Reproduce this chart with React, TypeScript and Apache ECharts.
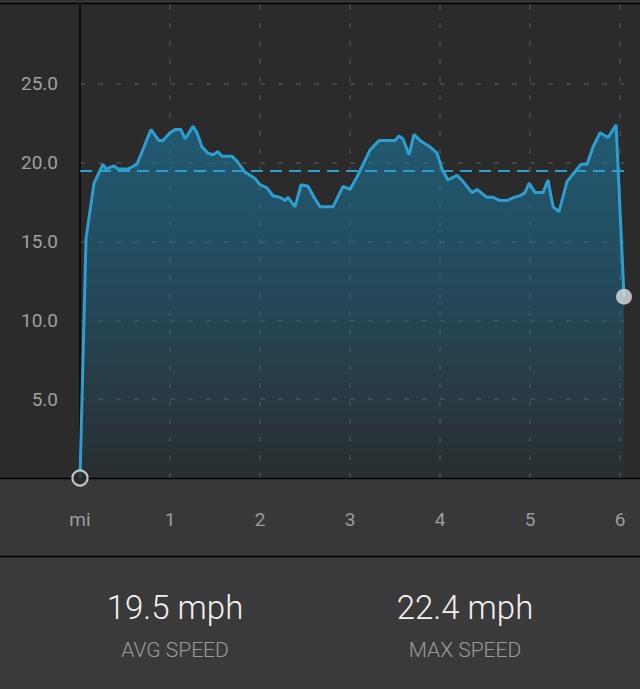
import React, { useEffect, useRef } from "react";
import * as echarts from "echarts";

// distance (miles) and speed (mph)
const distances = [
  0, 0.067, 0.156, 0.256, 0.289, 0.378, 0.422, 0.533, 0.633, 0.789, 0.878, 0.922,
  1.0, 1.056, 1.122, 1.167, 1.256, 1.3, 1.356, 1.422, 1.478, 1.533, 1.578, 1.689,
  1.744, 1.833, 1.944, 2.0, 2.078, 2.144, 2.222, 2.278, 2.311, 2.389, 2.456, 2.533,
  2.611, 2.667, 2.811, 2.922, 3.0, 3.078, 3.222, 3.322, 3.5, 3.544, 3.589, 3.656,
  3.711, 3.778, 3.889, 3.967, 4.022, 4.089, 4.189, 4.256, 4.356, 4.411, 4.522, 4.589,
  4.667, 4.744, 4.822, 4.889, 4.944, 4.989, 5.056, 5.144, 5.2, 5.256, 5.322, 5.411,
  5.467, 5.567, 5.633, 5.7, 5.778, 5.867, 5.956, 6.044,
];
const speeds = [
  0, 15.2, 18.7, 19.9, 19.6, 19.8, 19.6, 19.6, 19.9, 22.1, 21.4, 21.4,
  21.9, 22.1, 22.1, 21.5, 22.3, 21.9, 21.0, 20.6, 20.5, 20.7, 20.4, 20.4,
  20.1, 19.4, 19.0, 18.6, 18.4, 17.9, 17.8, 17.6, 17.8, 17.2, 18.6, 18.5,
  17.7, 17.2, 17.2, 18.5, 18.3, 19.1, 20.8, 21.4, 21.4, 21.7, 21.5, 20.5,
  21.8, 21.4, 21.0, 20.6, 19.6, 18.9, 19.2, 18.8, 18.1, 18.3, 17.8, 17.8,
  17.6, 17.6, 17.8, 17.9, 18.1, 18.7, 18.1, 18.1, 18.9, 17.2, 16.9, 18.8,
  19.2, 19.9, 19.9, 21.0, 21.9, 21.6, 22.4, 11.5,
];
const xTickLabels = ["mi", "1", "2", "3", "4", "5", "6"];
const avgSpeed = 19.5;
const maxSpeed = 22.4;
const statValues = [`${avgSpeed} mph`, `${maxSpeed} mph`];
const statLabels = ["AVG SPEED", "MAX SPEED"];

const FONT = "Roboto, 'Liberation Sans', sans-serif";

export default function App() {
  const ref = useRef<HTMLDivElement>(null);

  useEffect(() => {
    document.body.style.margin = "0";
    document.body.style.background = "#2b2b2b";
    if (!ref.current) return;
    const chart = echarts.init(ref.current, null, { renderer: "svg" });

    const lineData = distances.map((d, i) => [d, speeds[i]]);
    const last = lineData.length - 1;

    const statX = [175, 465];

    chart.setOption({
      animation: false,
      backgroundColor: "#2b2b2b",
      grid: { left: 80, right: 16, top: 5, bottom: 211, containLabel: false },
      xAxis: {
        type: "value",
        min: 0,
        max: distances[last],
        interval: 1,
        axisLine: { show: false },
        axisTick: { show: false },
        axisLabel: {
          color: "#9c9c9c",
          fontSize: 19,
          fontFamily: FONT,
          margin: 32,
          showMaxLabel: false,
          formatter: (v: number) =>
            Math.abs(v - Math.round(v)) < 1e-6 ? xTickLabels[Math.round(v)] ?? "" : "",
        },
        splitLine: {
          show: true,
          showMinLine: false,
          showMaxLine: false,
          lineStyle: { color: "#4e4e4e", type: [5, 13], width: 1.5 },
        },
      },
      yAxis: {
        type: "value",
        min: 0,
        max: 30,
        interval: 5,
        axisLine: { show: true, lineStyle: { color: "#000000", width: 1.5 } },
        axisTick: { show: false },
        axisLabel: {
          color: "#a0a0a0",
          fontSize: 19,
          fontFamily: FONT,
          margin: 22,
          formatter: (v: number) => (v === 0 || v === 30 ? "" : v.toFixed(1)),
        },
        splitLine: {
          show: true,
          showMinLine: false,
          showMaxLine: false,
          lineStyle: { color: "#4e4e4e", type: [5, 13], width: 1.5 },
        },
      },
      graphic: [
        { type: "rect", z: -10, shape: { x: 0, y: 0, width: 640, height: 3 }, style: { fill: "#343434" } },
        { type: "rect", z: -10, shape: { x: 0, y: 478, width: 640, height: 78 }, style: { fill: "#383838" } },
        { type: "rect", z: -10, shape: { x: 0, y: 556, width: 640, height: 133 }, style: { fill: "#3a3a3a" } },
        { type: "line", z: 1, shape: { x1: 0, y1: 3.5, x2: 640, y2: 3.5 }, style: { stroke: "#000", lineWidth: 1.5 } },
        { type: "line", z: 1, shape: { x1: 0, y1: 478.5, x2: 640, y2: 478.5 }, style: { stroke: "#000", lineWidth: 1.5 } },
        { type: "line", z: 1, shape: { x1: 0, y1: 556.5, x2: 640, y2: 556.5 }, style: { stroke: "#000", lineWidth: 1.5 } },
        ...statValues.map((t, i) => ({
          type: "text",
          z: 5,
          x: statX[i],
          y: 607,
          style: {
            text: t,
            fill: "#f2f2f2",
            font: `300 33px ${FONT}`,
            align: "center",
            verticalAlign: "middle",
          },
        })),
        ...statLabels.map((t, i) => ({
          type: "text",
          z: 5,
          x: statX[i],
          y: 650,
          style: {
            text: t,
            fill: "#9a9a9a",
            font: `300 21px ${FONT}`,
            align: "center",
            verticalAlign: "middle",
          },
        })),
      ],
      series: [
        {
          type: "line",
          data: lineData,
          symbol: "none",
          z: 3,
          lineStyle: { color: "#2c9fd0", width: 3 },
          areaStyle: {
            opacity: 1,
            color: new echarts.graphic.LinearGradient(0, 0, 0, 1, [
              { offset: 0, color: "rgba(26,121,163,0.6)" },
              { offset: 0.5, color: "rgba(27,112,152,0.42)" },
              { offset: 1, color: "rgba(27,112,152,0.04)" },
            ]),
          },
          markLine: {
            silent: true,
            symbol: "none",
            label: { show: false },
            lineStyle: { color: "#2c9fd0", type: [12, 7], width: 1.8 },
            data: [{ yAxis: avgSpeed }],
          },
        },
        {
          type: "scatter",
          z: 6,
          data: [
            {
              value: lineData[0],
              symbolSize: 15,
              itemStyle: { color: "#2b2b2b", borderColor: "#e8e8e8", borderWidth: 2.2 },
            },
            {
              value: lineData[last],
              symbolSize: 16,
              itemStyle: { color: "#dedede" },
            },
          ],
        },
      ],
    });

    return () => chart.dispose();
  }, []);

  return <div ref={ref} style={{ width: 640, height: 689 }} />;
}
